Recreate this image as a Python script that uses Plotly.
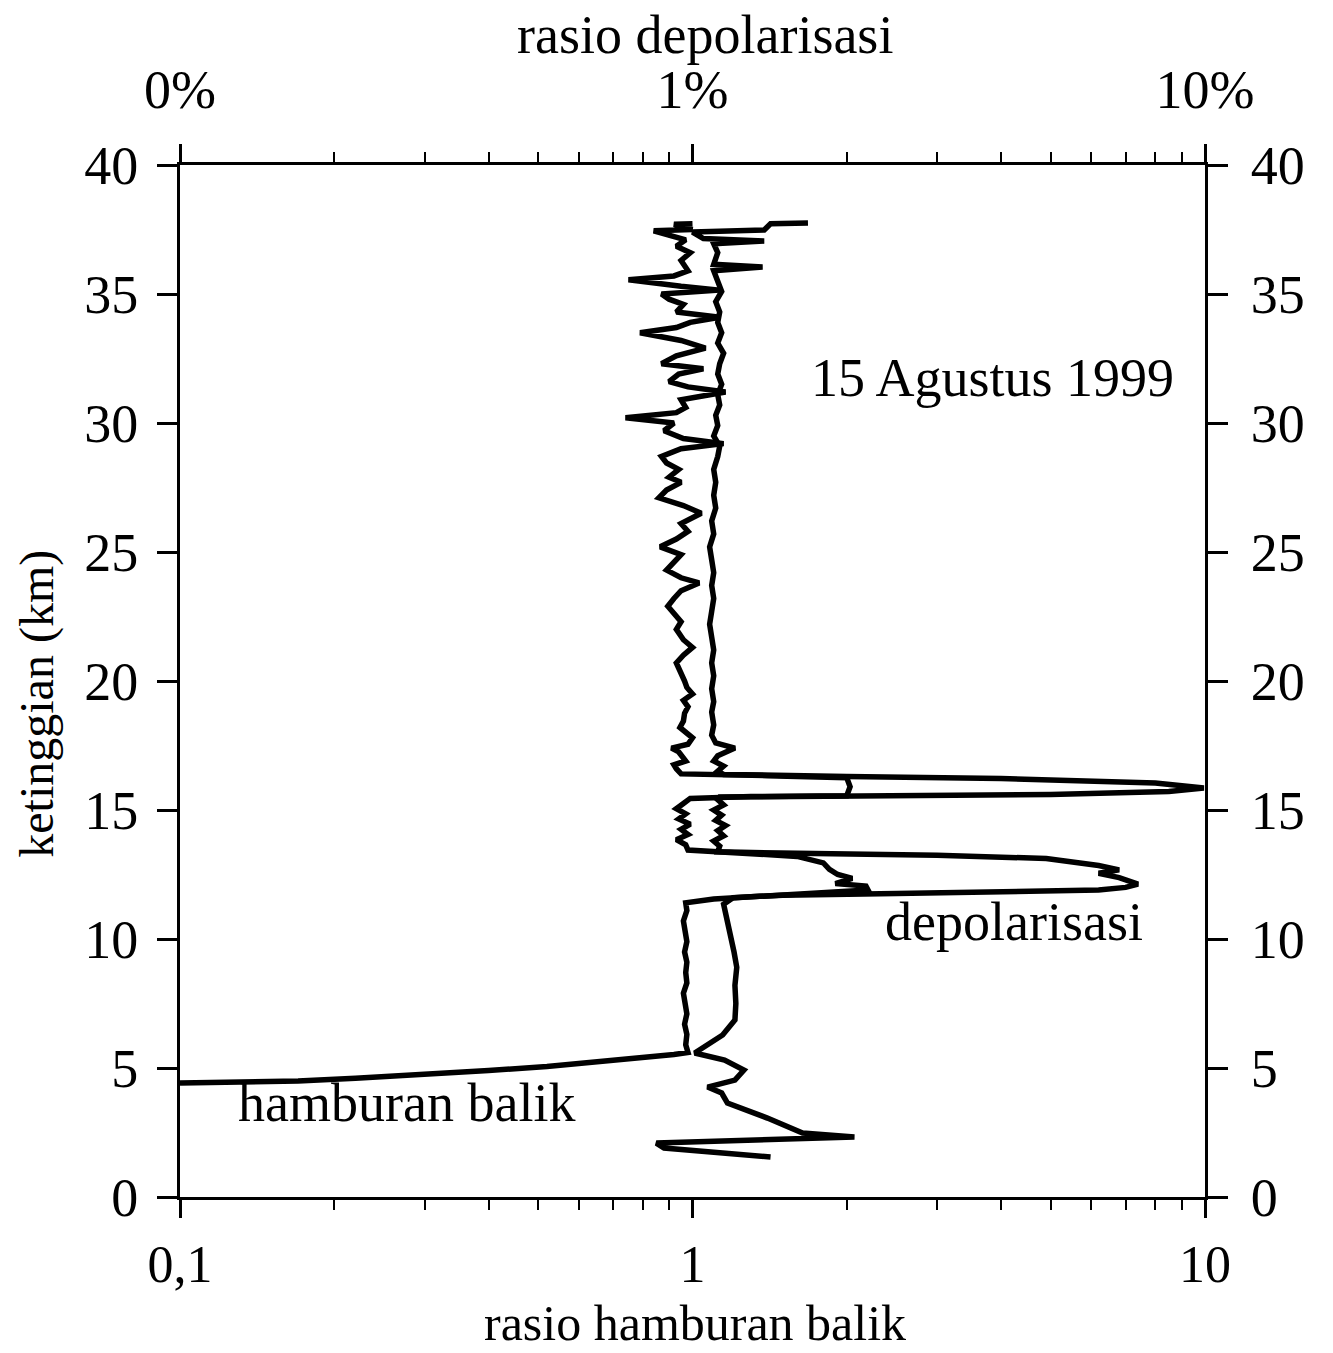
import plotly.graph_objects as go

# ---- hamburan balik (backscatter ratio), bottom axis ----
hamburan_x = [
    0.1, 0.13, 0.17, 0.22, 0.3, 0.4, 0.52, 0.65, 0.8, 0.92, 0.98,
    0.97, 0.975, 0.965, 0.975, 0.97, 0.96, 0.975, 0.97, 0.975, 0.965, 0.975, 0.97, 0.96, 0.975, 0.97,
    1.1, 1.4, 1.8, 2.2, 2.18, 1.9, 2.05, 1.92, 1.85, 1.8, 1.6, 1.2, 0.98,
    0.97, 0.93, 0.98, 0.95, 0.99, 0.94, 0.97, 0.93, 0.96, 0.99,
    1.3, 2.0, 2.03, 2.0, 1.4, 0.95,
    0.93, 0.92, 0.97, 0.96, 0.94, 0.91, 0.98, 1.0, 0.97, 0.945,
    0.96, 0.965, 0.98, 0.96, 1.0, 0.975, 0.965, 0.95, 0.93, 0.96,
    1.0, 0.96, 0.93, 0.95, 0.92, 0.895, 0.92, 0.95, 1.03, 0.95,
    0.89, 0.92, 0.95, 0.865, 0.93, 0.98, 0.95, 1.04, 0.96, 0.86,
    0.89, 0.95, 0.90, 0.94, 0.89, 0.87, 0.95, 1.15, 0.96, 0.88,
    0.92, 0.74, 0.93, 0.97, 0.95, 1.16, 0.98, 0.90, 0.94, 1.05,
    0.87, 0.93, 1.06, 0.95, 0.79, 0.93, 0.99, 1.13, 0.93, 0.96,
    0.90, 0.87, 1.13, 0.95, 0.75, 0.92, 0.98, 0.95, 0.99, 0.93,
    0.97, 0.84, 1.0, 0.92, 1.0,
]
hamburan_km = [
    4.42, 4.44, 4.5, 4.6, 4.74, 4.9, 5.06, 5.22, 5.4, 5.52, 5.6,
    5.9, 6.3, 6.7, 7.1, 7.5, 7.9, 8.3, 8.7, 9.1, 9.5, 9.9, 10.3, 10.7, 11.1, 11.4,
    11.55, 11.68, 11.8, 11.9, 12.05, 12.15, 12.35, 12.5, 12.7, 12.95, 13.2, 13.35, 13.45,
    13.65, 13.85, 14.05, 14.25, 14.45, 14.65, 14.85, 15.05, 15.25, 15.45,
    15.52, 15.55, 15.9, 16.25, 16.33, 16.4,
    16.6, 16.75, 16.9, 17.05, 17.25, 17.4, 17.55, 17.8, 18.0, 18.2,
    18.45, 18.75, 19.0, 19.25, 19.5, 19.75, 20.0, 20.3, 20.7, 21.0,
    21.3, 21.6, 22.0, 22.3, 22.6, 22.9, 23.2, 23.5, 23.8, 24.0,
    24.3, 24.6, 24.9, 25.2, 25.5, 25.8, 26.1, 26.5, 26.8, 27.1,
    27.4, 27.7, 27.9, 28.2, 28.45, 28.7, 29.0, 29.2, 29.4, 29.7,
    30.0, 30.2, 30.4, 30.6, 30.9, 31.2, 31.4, 31.6, 31.9, 32.1,
    32.3, 32.6, 32.9, 33.2, 33.5, 33.7, 33.9, 34.1, 34.3, 34.6,
    34.8, 35.0, 35.15, 35.3, 35.55, 35.7, 35.9, 36.3, 36.6, 36.85,
    37.1, 37.45, 37.5, 37.7, 37.72,
]

# ---- depolarisasi (depolarization ratio), top axis ----
depol_x = [
    1.42, 0.88, 0.85, 2.07, 1.64, 1.4, 1.17, 1.14, 1.07, 1.21, 1.26, 1.155, 1.01,
    1.07, 1.145, 1.21, 1.215, 1.21, 1.22, 1.205, 1.19, 1.17, 1.155, 1.15,
    1.2, 1.5, 2.5, 4.0, 6.2, 7.0, 7.4, 6.8, 6.2, 6.8, 6.2, 4.9, 3.0, 1.6, 1.12,
    1.13, 1.1, 1.15, 1.12, 1.16, 1.11, 1.14, 1.1, 1.15, 1.12, 1.13,
    2.0, 5.0, 8.5, 9.95, 8.0, 4.0, 2.0, 1.15,
    1.12, 1.15, 1.10, 1.12, 1.21, 1.11, 1.09, 1.10, 1.09, 1.10,
    1.09, 1.10, 1.09, 1.10, 1.09, 1.08, 1.09, 1.10, 1.09, 1.10,
    1.09, 1.08, 1.10, 1.09, 1.11, 1.10, 1.11, 1.10, 1.12, 1.13,
    1.10, 1.12, 1.11, 1.13, 1.12, 1.14, 1.12, 1.13, 1.15, 1.12,
    1.14, 1.12, 1.13, 1.11, 1.14, 1.12, 1.10, 1.37, 1.10, 1.12,
    1.10, 1.38, 1.05, 1.0, 1.38, 1.42, 1.68,
]
depol_km = [
    1.55, 1.9, 2.09, 2.33, 2.48, 3.06, 3.64, 4.03, 4.26, 4.53, 4.92, 5.31, 5.58,
    5.89, 6.28, 6.86, 7.5, 8.2, 8.9, 9.5, 10.0, 10.5, 11.0, 11.35,
    11.6, 11.7, 11.76, 11.82, 11.9, 12.0, 12.13, 12.38, 12.55, 12.68, 12.85, 13.12, 13.25, 13.32, 13.38,
    13.6, 13.8, 14.0, 14.2, 14.4, 14.6, 14.8, 15.0, 15.2, 15.4, 15.5,
    15.55, 15.6, 15.72, 15.85, 16.05, 16.22, 16.3, 16.38,
    16.5, 16.7, 16.9, 17.1, 17.4, 17.6, 17.9, 18.3, 18.8, 19.2,
    19.7, 20.2, 20.7, 21.2, 21.7, 22.2, 22.7, 23.2, 23.7, 24.2,
    24.7, 25.2, 25.7, 26.2, 26.7, 27.2, 27.7, 28.2, 28.7, 29.1,
    29.5, 29.9, 30.3, 30.7, 31.1, 31.5, 31.9, 32.3, 32.7, 33.1,
    33.5, 33.9, 34.3, 34.7, 35.1, 35.5, 35.9, 36.05, 36.15, 36.6,
    36.95, 37.05, 37.15, 37.4, 37.48, 37.72, 37.75,
]

bottom_tickvals = [0.1, 1, 10]
bottom_ticktext = ["0,1", "1", "10"]
top_ticktext = ["0%", "1%", "10%"]
minor_vals = [0.2, 0.3, 0.4, 0.5, 0.6, 0.7, 0.8, 0.9, 2, 3, 4, 5, 6, 7, 8, 9]
height_ticks = [0, 5, 10, 15, 20, 25, 30, 35, 40]

FONT = "Liberation Serif"
TICK_SIZE = 54

fig = go.Figure()
fig.add_trace(go.Scatter(x=hamburan_x, y=hamburan_km, mode="lines",
                         name="hamburan balik", line=dict(color="black", width=5.5),
                         xaxis="x", yaxis="y"))
fig.add_trace(go.Scatter(x=depol_x, y=depol_km, mode="lines",
                         name="depolarisasi", line=dict(color="black", width=5.5),
                         xaxis="x2", yaxis="y2"))

common_x = dict(type="log", range=[-1, 1], tickvals=bottom_tickvals,
                showline=True, linewidth=3, linecolor="black", showgrid=False,
                zeroline=False, ticks="outside", ticklen=18, tickwidth=2.5,
                tickcolor="black",
                minor=dict(tickvals=minor_vals, ticks="outside", ticklen=10,
                           tickwidth=2, tickcolor="black"))
common_y = dict(range=[0, 40], tickvals=height_ticks, showline=True, linewidth=3,
                linecolor="black", showgrid=False, zeroline=False, ticks="outside",
                ticklen=20, tickwidth=2.5, tickcolor="black",
                tickfont=dict(family=FONT, size=TICK_SIZE, color="black"))

fig.update_layout(
    width=1333, height=1353,
    margin=dict(l=180, r=128, t=165, b=156),
    paper_bgcolor="white", plot_bgcolor="white", showlegend=False,
    font=dict(family=FONT, size=50, color="black"),
    xaxis=dict(**common_x, ticktext=bottom_ticktext, side="bottom", ticklabelstandoff=2,
               tickfont=dict(family=FONT, size=52, color="black")),
    xaxis2=dict(**common_x, ticktext=top_ticktext, side="top", overlaying="x",
                ticklabelstandoff=14,
                tickfont=dict(family=FONT, size=TICK_SIZE, color="black")),
    yaxis=dict(**common_y, side="left", ticklabelstandoff=8),
    yaxis2=dict(**common_y, side="right", overlaying="y", ticklabelstandoff=12),
)

ann_font = dict(family=FONT, size=54, color="black")
fig.add_annotation(text="rasio depolarisasi", xref="paper", yref="paper",
                   x=0.512, y=1.126, showarrow=False, font=ann_font,
                   xanchor="center", yanchor="middle")
fig.add_annotation(text="rasio hamburan balik", xref="paper", yref="paper",
                   x=0.502, y=-0.1225, showarrow=False,
                   font=dict(family=FONT, size=50, color="black"),
                   xanchor="center", yanchor="middle")
fig.add_annotation(text="ketinggian (km)", xref="paper", yref="paper",
                   x=-0.1395, y=0.478, showarrow=False,
                   font=dict(family=FONT, size=48, color="black"), textangle=-90,
                   xanchor="center", yanchor="middle")
fig.add_annotation(text="15 Agustus 1999", xref="paper", yref="paper",
                   x=0.793, y=0.794, showarrow=False, font=ann_font,
                   xanchor="center", yanchor="middle")
fig.add_annotation(text="depolarisasi", xref="paper", yref="paper",
                   x=0.814, y=0.2665, showarrow=False, font=ann_font,
                   xanchor="center", yanchor="middle")
fig.add_annotation(text="hamburan balik", xref="paper", yref="paper",
                   x=0.2205, y=0.091, showarrow=False, font=ann_font,
                   xanchor="center", yanchor="middle")

fig.write_html("out.html")
